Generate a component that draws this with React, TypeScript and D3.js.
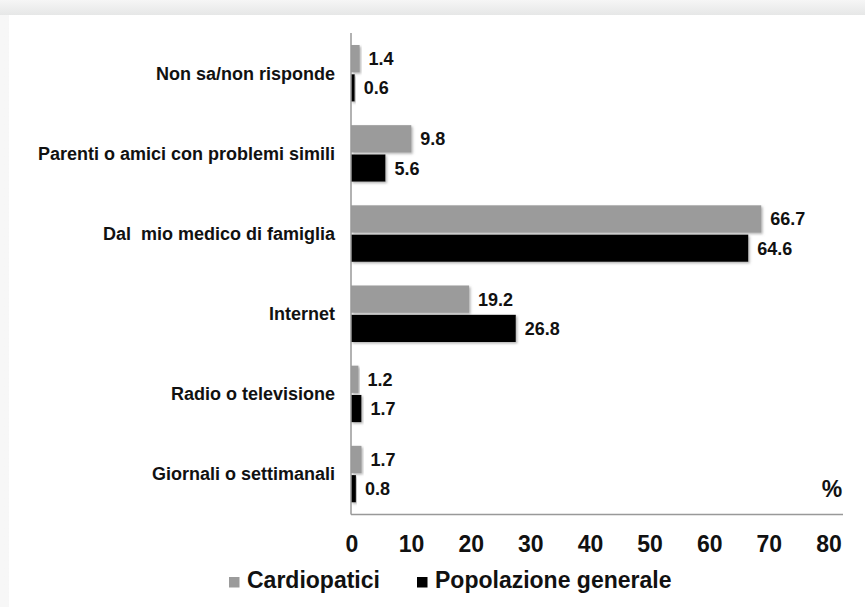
import React from 'react';
import * as d3 from 'd3';

// categories, top to bottom
const categories = [
  'Non sa/non risponde',
  'Parenti o amici con problemi simili',
  'Dal  mio medico di famiglia',
  'Internet',
  'Radio o televisione',
  'Giornali o settimanali',
];
const series = ['Cardiopatici', 'Popolazione generale'];
const cardiopatici = [1.4, 9.8, 66.7, 19.2, 1.2, 1.7];
const popolazione = [0.6, 5.6, 64.6, 26.8, 1.7, 0.8];
const tickLabels = ['0', '10', '20', '30', '40', '50', '60', '70', '80'];
const colors = ['#9b9b9b', '#000000'];

const W = 865;
const H = 607;
const font = '"Liberation Sans", Arial, Helvetica, sans-serif';

const App = () => {
  const x = d3.scaleLinear().domain([0, 80]).range([351, 843]);
  const y = d3.scaleBand().domain(categories).range([33, 514]);
  const sub = d3.scaleBand().domain(series).range([12, 68.5]).paddingInner(0.07);
  // tick labels are spaced a bit tighter than the bars in the source picture
  const tickPos = d3.scalePoint().domain(tickLabels).range([352, 829]);

  const values = [cardiopatici, popolazione];
  const fmt = d3.format('.1f');

  return (
    <svg width={W} height={H} style={{ position: 'absolute', left: 0, top: 0 }} fontFamily={font}>
      <defs>
        <linearGradient id="topShade" x1="0" y1="0" x2="0" y2="1">
          <stop offset="0" stopColor="#f6f6f6" />
          <stop offset="1" stopColor="#e6e7e7" />
        </linearGradient>
        <linearGradient id="leftShade" x1="0" y1="0" x2="1" y2="0">
          <stop offset="0" stopColor="#f7f7f7" />
          <stop offset="1" stopColor="#eff0f0" />
        </linearGradient>
        <filter id="shadow" x="-10%" y="-20%" width="130%" height="160%">
          <feDropShadow dx="1.5" dy="1.5" stdDeviation="1" floodColor="#777" floodOpacity="0.55" />
        </filter>
      </defs>

      <rect x={0} y={0} width={W} height={H} fill="url(#leftShade)" />
      <rect x={0} y={0} width={W} height={15} fill="url(#topShade)" />
      <rect x={9} y={15} width={W - 9} height={H - 15} fill="#ffffff" />

      {/* bars */}
      {categories.map((c, i) => (
        <g key={c}>
          {series.map((s, j) => {
            const v = values[j][i];
            const by = (y(c) as number) + (sub(s) as number);
            const bh = sub.bandwidth();
            return (
              <g key={s}>
                <rect
                  x={x(0)}
                  y={by}
                  width={x(v) - x(0)}
                  height={bh}
                  fill={colors[j]}
                  filter="url(#shadow)"
                />
                <text
                  x={x(v) + 9}
                  y={by + bh / 2}
                  dy="0.36em"
                  fontSize={18}
                  fontWeight="bold"
                  fill="#111"
                >
                  {fmt(v)}
                </text>
              </g>
            );
          })}
          <text
            x={335}
            y={(y(c) as number) + y.bandwidth() / 2}
            dy="0.36em"
            textAnchor="end"
            fontSize={18}
            fontWeight="bold"
            fill="#111"
            style={{ whiteSpace: 'pre' }}
          >
            {c}
          </text>
        </g>
      ))}

      {/* axes */}
      <line x1={x(0)} x2={x(0)} y1={33} y2={514.5} stroke="#999" strokeWidth={1.5} />
      <line x1={x(0)} x2={x(80)} y1={514.5} y2={514.5} stroke="#999" strokeWidth={1.5} />

      {tickLabels.map((t) => (
        <text
          key={t}
          x={tickPos(t)}
          y={552}
          textAnchor="middle"
          fontSize={23}
          fontWeight="bold"
          fill="#111"
        >
          {t}
        </text>
      ))}
      <text x={832} y={497} textAnchor="middle" fontSize={23} fontWeight="bold" fill="#111">
        %
      </text>

      {/* legend */}
      {series.map((s, j) => {
        const lx = j === 0 ? 229 : 417;
        return (
          <g key={s}>
            <rect x={lx} y={577} width={10.5} height={10.5} fill={colors[j]} />
            <text x={lx + 18} y={588} fontSize={23} fontWeight="bold" fill="#111">
              {s}
            </text>
          </g>
        );
      })}
    </svg>
  );
};

export default App;
